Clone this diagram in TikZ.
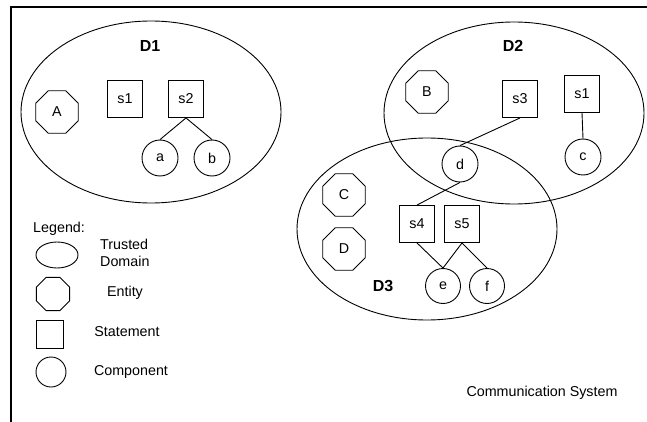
\documentclass[tikz,border=0pt]{standalone}
\usepackage{fontspec}
\setmainfont{Liberation Sans}
\usetikzlibrary{shapes.geometric}

\tikzset{
  base/.style={draw, line width=0.9pt, inner sep=0pt, font=\fontsize{14.3}{16.5}\selectfont},
  tdomain/.style={base, ellipse, minimum width=260pt, minimum height=182pt},
  entity/.style={base, regular polygon, regular polygon sides=8, minimum size=46pt},
  stmt/.style={base, rectangle, minimum width=35pt, minimum height=37pt},
  comp/.style={base, circle, minimum size=36pt},
  dlabel/.style={font=\fontsize{16}{18}\selectfont\bfseries},
  txt/.style={font=\fontsize{14.3}{17.5}\selectfont, inner sep=0pt},
  link/.style={line width=0.9pt},
}

\begin{document}
\begin{tikzpicture}[x=1pt, y=-1pt]
  \useasboundingbox (0,0) rectangle (647,422);

  % outer frame (top and left edges only)
  \draw[line width=1.5pt] (11,422) -- (11,7) -- (647,7);

  % trusted domains
  \node[tdomain] (D1e) at (151,112) {};
  \node[tdomain] (D2e) at (514,113) {};
  \node[tdomain] (D3e) at (427,229) {};
  \node[dlabel] (D1) at (150,46) {D1};
  \node[dlabel] (D2) at (513,46) {D2};
  \node[dlabel] (D3) at (383,286) {D3};

  % domain D1
  \node[entity] (A) at (57,112) {A};
  \node[stmt] (s1a) at (125,99) {s1};
  \node[stmt] (s2) at (186,99) {s2};
  \node[comp] (a) at (160,158) {a};
  \node[comp] (b) at (212,158) {b};

  % domain D2
  \node[entity] (B) at (427,92) {B};
  \node[stmt] (s3) at (520,99) {s3};
  \node[stmt] (s1b) at (582,94) {s1};
  \node[comp] (c) at (583,157) {c};
  \node[comp] (d) at (460,164) {d};

  % domain D3
  \node[entity] (C) at (344,195) {C};
  \node[entity] (D) at (344,249) {D};
  \node[stmt] (s4) at (417,224) {s4};
  \node[stmt] (s5) at (462,224) {s5};
  \node[comp, minimum size=35pt] (e) at (443,286) {e};
  \node[comp, minimum size=35pt] (f) at (487,286) {f};

  % connectors
  \draw[link] (s2.south) -- (a.north);
  \draw[link] (s2.south) -- (b.north);
  \draw[link] (s1b.south) -- (c.north);
  \draw[link] (s3.south) -- (d.north);
  \draw[link] (d.south) -- (s4.north);
  \draw[link] (s4.south) -- (e.north);
  \draw[link] (s5.south) -- (e.north);
  \draw[link] (s5.south) -- (f.north);

  % legend
  \node[txt, anchor=west] (leg) at (33,229) {Legend:};
  \node[base, ellipse, minimum width=42pt, minimum height=26pt] (lgD) at (57,255) {};
  \node[txt, anchor=west, align=left] (lgDt) at (100,253) {Trusted\\Domain};
  \node[base, regular polygon, regular polygon sides=8, minimum size=36pt] (lgE) at (53,294) {};
  \node[txt] (lgEt) at (125,293) {Entity};
  \node[base, rectangle, minimum width=27pt, minimum height=28pt] (lgS) at (50,334) {};
  \node[txt] (lgSt) at (127,332) {Statement};
  \node[base, circle, minimum size=30pt] (lgC) at (51,372) {};
  \node[txt] (lgCt) at (131,372) {Component};

  \node[txt] (sys) at (542,393) {Communication System};
\end{tikzpicture}
\end{document}
